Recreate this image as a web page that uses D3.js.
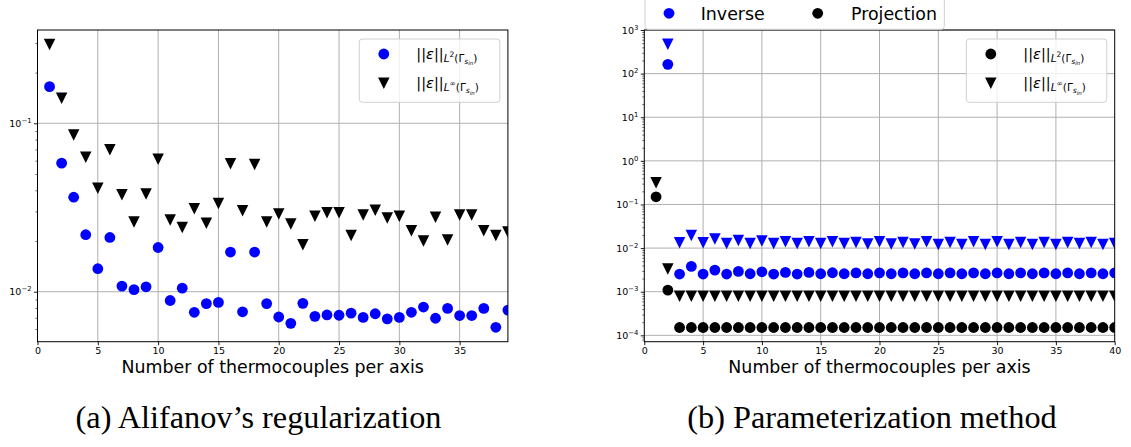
<!DOCTYPE html>
<html>
<head>
<meta charset="utf-8">
<script src="https://cdn.jsdelivr.net/npm/d3@7/dist/d3.min.js"></script>
<style>
  html, body { margin: 0; padding: 0; background: #fff; }
  svg { display: block; font-family: "DejaVu Sans", sans-serif; }
</style>
</head>
<body>
<svg id="fig" width="1131" height="447"></svg>
<script>
// ---- Panel (a): Alifanov's regularization ----
const nA = [1,2,3,4,5,6,7,8,9,10,11,12,13,14,15,16,17,18,19,20,21,22,23,24,25,26,27,28,29,30,31,32,33,34,35,36,37,38,39];
const l2A = [0.165, 0.058, 0.0364, 0.0218, 0.0137, 0.021, 0.0108, 0.0103, 0.0107, 0.0183,
             0.00887, 0.0105, 0.00755, 0.0085, 0.00864, 0.0172, 0.0076, 0.0172, 0.0085, 0.00708,
             0.00649, 0.00853, 0.00714, 0.00728, 0.00725, 0.00746, 0.00704, 0.0074, 0.0069, 0.00704,
             0.00755, 0.00811, 0.00696, 0.00796, 0.00722, 0.00722, 0.00796, 0.00615, 0.00778];
const linfA = [0.294, 0.1406, 0.0853, 0.0629, 0.0411, 0.0696, 0.0377, 0.0259, 0.0381, 0.0611,
               0.0267, 0.0241, 0.0311, 0.0255, 0.0334, 0.0575, 0.0303, 0.057, 0.0259, 0.0289,
               0.0252, 0.019, 0.0281, 0.0294, 0.0294, 0.0216, 0.0285, 0.0305, 0.0274, 0.0281,
               0.023, 0.02, 0.0277, 0.0203, 0.0285, 0.0285, 0.023, 0.0216, 0.0226];
const xTicksA = [0, 5, 10, 15, 20, 25, 30, 35];
const yTicksA = [1e-2, 1e-1];

// ---- Panel (b): Parameterization method ----
const nProj = [1,2,3,4,5,6,7,8,9,10,11,12,13,14,15,16,17,18,19,20,21,22,23,24,25,26,27,28,29,30,31,32,33,34,35,36,37,38,39,40];
const l2Proj = [0.150, 0.00109, 0.000151, 0.000151, 0.000151, 0.000151, 0.000151, 0.000151, 0.000151, 0.000151,
                0.000151, 0.000151, 0.000151, 0.000151, 0.000151, 0.000151, 0.000151, 0.000151, 0.000151, 0.000151,
                0.000151, 0.000151, 0.000151, 0.000151, 0.000151, 0.000151, 0.000151, 0.000151, 0.000151, 0.000151,
                0.000151, 0.000151, 0.000151, 0.000151, 0.000151, 0.000151, 0.000151, 0.000151, 0.000151, 0.000151];
const linfProj = [0.315, 0.0033, 0.00079, 0.00079, 0.00079, 0.00079, 0.00079, 0.00079, 0.00079, 0.00079,
                  0.00079, 0.00079, 0.00079, 0.00079, 0.00079, 0.00079, 0.00079, 0.00079, 0.00079, 0.00079,
                  0.00079, 0.00079, 0.00079, 0.00079, 0.00079, 0.00079, 0.00079, 0.00079, 0.00079, 0.00079,
                  0.00079, 0.00079, 0.00079, 0.00079, 0.00079, 0.00079, 0.00079, 0.00079, 0.00079, 0.00079];
const nInv = [2,3,4,5,6,7,8,9,10,11,12,13,14,15,16,17,18,19,20,21,22,23,24,25,26,27,28,29,30,31,32,33,34,35,36,37,38,39,40];
const l2Inv = [163, 0.00254, 0.0038, 0.00254, 0.00313, 0.00254, 0.00292, 0.00258, 0.00286, 0.00254,
               0.00277, 0.00254, 0.00277, 0.00258, 0.00272, 0.00258, 0.0027, 0.00258, 0.0027, 0.00258,
               0.0027, 0.00258, 0.0027, 0.00258, 0.0027, 0.00258, 0.0027, 0.00258, 0.0027, 0.00258,
               0.0027, 0.00258, 0.0027, 0.00258, 0.0027, 0.00258, 0.0027, 0.00258, 0.0027];
const linfInv = [470, 0.01324, 0.01953, 0.01324, 0.0161, 0.0128, 0.0150, 0.0128, 0.01448, 0.0128,
                 0.01396, 0.0128, 0.01396, 0.0128, 0.01396, 0.0128, 0.01349, 0.01236, 0.01396, 0.01236,
                 0.01349, 0.01236, 0.01396, 0.01214, 0.01349, 0.01214, 0.01396, 0.01214, 0.01396, 0.01214,
                 0.01349, 0.01214, 0.01349, 0.01214, 0.01349, 0.0128, 0.01349, 0.01214, 0.0128];
const xTicksB = [0, 5, 10, 15, 20, 25, 30, 35, 40];
const yTicksB = [1e-4, 1e-3, 1e-2, 1e-1, 1e0, 1e1, 1e2, 1e3];

const captions = ["(a) Alifanov\u2019s regularization", "(b) Parameterization method"];
const axisLabel = "Number of thermocouples per axis";
const methodNames = ["Inverse", "Projection"];

const BLUE = "#0000ff", BLACK = "#000000", GRID = "#b0b0b0";
const svg = d3.select("#fig");

const circleSym = d3.symbol().type(d3.symbolCircle).size(Math.PI * 5.4 * 5.4);
// downward triangle, bounding box centred on the data point
function triDown(s) {
  const h = s / 2;
  return `M${-h},${-h}L${h},${-h}L0,${h}Z`;
}

function supText(sel, base, exp, size) {
  sel.append("tspan").text(base);
  sel.append("tspan").attr("dy", -size * 0.42).attr("font-size", size * 0.72).text(exp);
}

function fmtExp(v) {
  const e = Math.round(Math.log10(v));
  return e < 0 ? "\u2212" + Math.abs(e) : String(e);
}

// ||ε||_{L^p(Γ_{s_in})} written out with tspans
function normLabel(g, x, y, p) {
  const t = g.append("text").attr("x", x).attr("y", y).attr("font-size", 14.5).attr("fill", "#000");
  t.append("tspan").text("||");
  t.append("tspan").attr("font-style", "italic").text("\u03b5");
  t.append("tspan").text("||");
  t.append("tspan").attr("dy", 3).attr("font-size", 10.5).attr("font-style", "italic").text("L");
  t.append("tspan").attr("dy", -5).attr("font-size", 7.5).text(p);
  t.append("tspan").attr("dy", 5).attr("font-size", 10.5).text("(\u0393");
  t.append("tspan").attr("dy", 2).attr("font-size", 7.5).attr("font-style", "italic").text("s");
  t.append("tspan").attr("dy", 1.5).attr("font-size", 5.5).attr("font-style", "italic").text("in");
  t.append("tspan").attr("dy", -3.5).attr("font-size", 10.5).text(")");
}

function panel(cfg) {
  const { id, left, right, top, bottom, xDomain, yDomain, xTicks, yTicks } = cfg;
  const x = d3.scaleLinear().domain(xDomain).range([left, right]);
  const y = d3.scaleLog().domain(yDomain).range([bottom, top]);
  const g = svg.append("g");

  g.append("clipPath").attr("id", "clip-" + id)
    .append("rect").attr("x", left).attr("y", top).attr("width", right - left).attr("height", bottom - top);

  // grid
  g.append("g").selectAll("line.gx").data(xTicks.filter(d => d > xDomain[0] && d < xDomain[1])).join("line")
    .attr("x1", d => x(d)).attr("x2", d => x(d)).attr("y1", top).attr("y2", bottom)
    .attr("stroke", GRID).attr("stroke-width", 1);
  g.append("g").selectAll("line.gy").data(yTicks).join("line")
    .attr("x1", left).attr("x2", right).attr("y1", d => y(d)).attr("y2", d => y(d))
    .attr("stroke", GRID).attr("stroke-width", 1);

  // x axis
  const xAxis = d3.axisBottom(x).tickValues(xTicks).tickSize(3.5).tickPadding(2.5).tickFormat(d3.format("d"));
  const gx = g.append("g").attr("transform", `translate(0,${bottom})`).call(xAxis);
  gx.select(".domain").remove();
  gx.selectAll("text").attr("font-size", 9.5).attr("font-family", "DejaVu Sans").attr("fill", "#000");
  gx.selectAll("line").attr("stroke", "#000").attr("stroke-width", 0.9);

  // y axis: major ticks with power labels, minor ticks unlabelled
  const minor = [];
  const lo = Math.floor(Math.log10(yDomain[0])), hi = Math.ceil(Math.log10(yDomain[1]));
  for (let e = lo; e <= hi; e++) for (let m = 2; m <= 9; m++) {
    const v = m * Math.pow(10, e);
    if (v > yDomain[0] && v < yDomain[1]) minor.push(v);
  }
  const yMinor = d3.axisLeft(y).tickValues(minor).tickSize(2).tickFormat("");
  const gm = g.append("g").attr("transform", `translate(${left},0)`).call(yMinor);
  gm.select(".domain").remove();
  gm.selectAll("line").attr("stroke", "#000").attr("stroke-width", 0.6);

  const yAxis = d3.axisLeft(y).tickValues(yTicks).tickSize(3.5).tickPadding(2.5).tickFormat("");
  const gy = g.append("g").attr("transform", `translate(${left},0)`).call(yAxis);
  gy.select(".domain").remove();
  gy.selectAll("line").attr("stroke", "#000").attr("stroke-width", 0.9);
  gy.selectAll(".tick").each(function (d) {
    const t = d3.select(this).append("text")
      .attr("x", -6).attr("y", 3.2).attr("text-anchor", "end")
      .attr("font-size", 9.5).attr("fill", "#000").attr("font-family", "DejaVu Sans");
    supText(t, "10", fmtExp(d), 9.5);
  });

  // marks
  const marks = g.append("g").attr("clip-path", `url(#clip-${id})`);
  cfg.series.forEach(s => {
    const pts = s.xs.map((n, i) => [n, s.ys[i]]);
    marks.append("g").selectAll("path").data(pts).join("path")
      .attr("transform", d => `translate(${x(d[0])},${y(d[1])})`)
      .attr("d", s.shape === "circle" ? circleSym() : triDown(11.5))
      .attr("fill", s.color);
  });

  // frame
  g.append("rect").attr("x", left).attr("y", top).attr("width", right - left).attr("height", bottom - top)
    .attr("fill", "none").attr("stroke", "#000").attr("stroke-width", 1);

  // axis title
  g.append("text").attr("x", (left + right) / 2).attr("y", 372.5).attr("text-anchor", "middle")
    .attr("font-size", 17.4).attr("fill", "#000").text(axisLabel);

  // norm legend
  const lg = g.append("g");
  lg.append("rect").attr("x", cfg.legX).attr("y", 39).attr("width", 140.5).attr("height", 63.3)
    .attr("rx", 3).attr("fill", "#fff").attr("fill-opacity", 0.8).attr("stroke", "#d0d0d0").attr("stroke-width", 1);
  lg.append("path").attr("transform", `translate(${cfg.legX + 24.5},54)`).attr("d", circleSym()).attr("fill", cfg.legColor);
  lg.append("path").attr("transform", `translate(${cfg.legX + 24.5},83.3)`).attr("d", triDown(11.5)).attr("fill", BLACK);
  normLabel(lg, cfg.legX + 57, 58.5, "2");
  normLabel(lg, cfg.legX + 57, 88, "\u221e");

  return { x, y };
}

panel({
  id: "a", left: 37.5, right: 507.9, top: 30, bottom: 341.7,
  xDomain: [0, 39], yDomain: [0.00505, 0.358], xTicks: xTicksA, yTicks: yTicksA,
  legX: 359.3, legColor: BLUE,
  series: [
    { xs: nA, ys: l2A, shape: "circle", color: BLUE },
    { xs: nA, ys: linfA, shape: "tri", color: BLACK }
  ]
});

panel({
  id: "b", left: 644.3, right: 1114.7, top: 30, bottom: 341.7,
  xDomain: [0, 40], yDomain: [7.14e-5, 1000], xTicks: xTicksB, yTicks: yTicksB,
  legX: 966.3, legColor: BLACK,
  series: [
    { xs: nInv, ys: linfInv, shape: "tri", color: BLUE },
    { xs: nInv, ys: l2Inv, shape: "circle", color: BLUE },
    { xs: nProj, ys: linfProj, shape: "tri", color: BLACK },
    { xs: nProj, ys: l2Proj, shape: "circle", color: BLACK }
  ]
});

// method legend above panel (b)
const ml = svg.append("g");
ml.append("rect").attr("x", 645).attr("y", -6).attr("width", 299.3).attr("height", 35.3)
  .attr("rx", 3).attr("fill", "#fff").attr("stroke", "#d0d0d0").attr("stroke-width", 1);
[[669, BLUE, 700.7], [817.7, BLACK, 851]].forEach((e, i) => {
  ml.append("path").attr("transform", `translate(${e[0]},13.3)`).attr("d", circleSym()).attr("fill", e[1]);
  ml.append("text").attr("x", e[2]).attr("y", 20).attr("font-size", 17.4).attr("fill", "#000").text(methodNames[i]);
});

// sub-figure captions
[[258.5, captions[0]], [872, captions[1]]].forEach(c => {
  svg.append("text").attr("x", c[0]).attr("y", 428).attr("text-anchor", "middle")
    .style("font-family", "'Liberation Serif', 'Times New Roman', serif").attr("font-size", 32.3)
    .attr("fill", "#000").text(c[1]);
});
</script>
</body>
</html>
